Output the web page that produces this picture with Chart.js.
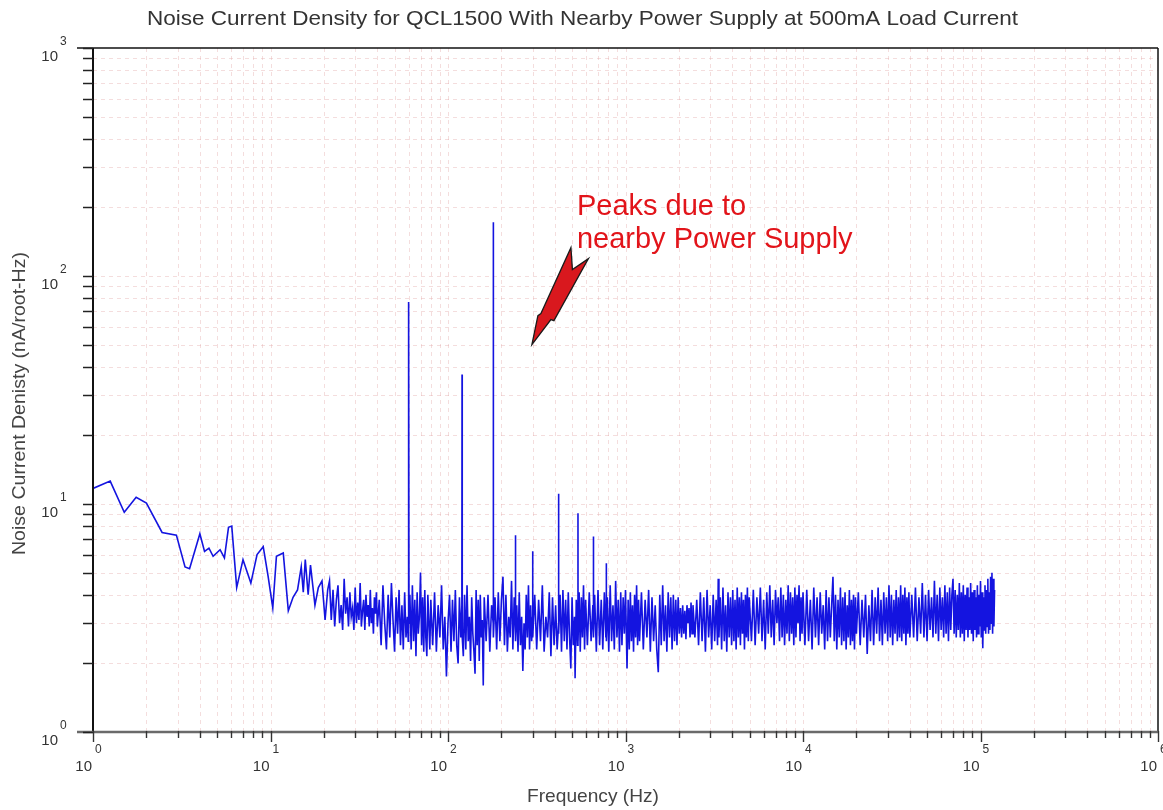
<!DOCTYPE html>
<html>
<head>
<meta charset="utf-8">
<script src="https://cdn.jsdelivr.net/npm/chart.js@4.4.1/dist/chart.umd.min.js"></script>
<style>
html,body{margin:0;padding:0;background:#fff;}
#wrap{width:1163px;height:810px;position:relative;}
</style>
</head>
<body>
<div id="wrap"><canvas id="c" width="1163" height="810"></canvas></div>
<script>
// ---------- text ----------
const chartTitle = "Noise Current Density for QCL1500 With Nearby Power Supply at 500mA Load Current";
const xAxisTitle = "Frequency (Hz)";
const yAxisTitle = "Noise Current Denisty (nA/root-Hz)";
const annotationLines = ["Peaks due to", "nearby Power Supply"];

// ---------- axes ----------
const xTickExponents = [0, 1, 2, 3, 4, 5, 6];   // 10^0 .. 10^6 Hz
const yTickExponents = [0, 1, 2, 3];            // 10^0 .. 10^3 nA/rtHz
const annotationTip = [297, 50];                // [Hz, nA/rtHz] where the arrow points

// ---------- data: [frequency Hz, noise nA/rtHz] ----------
const lowFreqSegment = [
  [1,11.7],[1.25,12.6],[1.5,9.2],[1.75,10.7],[2,10.1],[2.45,7.5],[2.95,7.3],[3.3,5.3],[3.5,5.2],[4,7.4],
  [4.25,6.2],[4.5,6.4],[4.75,5.9],[5.2,6.3],[5.5,5.8],[5.8,7.9],[6.05,8.0],[6.45,4.3],[7,5.7],[7.75,4.5],
  [8.4,6.0],[9.1,6.5],[9.7,4.8],[10.3,3.5],[10.8,5.9],[11.8,6.1],[12.6,3.4],[13.4,3.9],[14.2,4.2],[14.9,5.3],
  [15.3,4.1],[15.7,5.7],[16.3,4.0],[16.8,5.4],[17.8,3.6],[18.6,4.3],[19.5,4.6],[20.3,3.1],[21,4.2]
];
const segment20to80Hz = [
  [21.5,4.6],[22,3.1],[22.5,4.2],[23,2.9],[23.5,3.8],[24,4.4],[24.5,3.0],[25,3.6],[25.5,2.8],[26,4.7],
  [26.5,3.3],[27,3.9],[27.5,2.9],[28,4.1],[28.5,3.2],[29,3.5],[29.5,2.8],[30,4.3],[30.5,3.0],[31,3.7],
  [31.5,3.1],[32,4.5],[32.5,2.9],[33,3.4],[33.5,3.8],[34,2.8],[34.5,4.0],[35,3.2],[35.5,3.6],[36,2.9],
  [36.5,4.2],[37,3.0],[37.5,3.5],[38,2.7],[38.5,3.9],[39,3.3],[39.5,4.1],[40,2.9],
  [41,3.8],[42,2.4],[43,4.4],[44,3.0],[45,2.3],[46,4.0],[47,2.6],[48,4.5],[49,3.1],[50,2.25],
  [51,3.9],[52,2.7],[53,4.2],[54,2.4],[55,3.6],[56,2.3],[57,4.1],[58,2.6],[59,3.2],[59.7,2.5],
  [60,77],[60.3,3.0],[61,4.0],[62,2.3],[63,4.4],[64,2.5],[65,3.8],[66,2.15],[67,4.1],[68,2.7],
  [69,3.2],[70,5.0],[71,2.4],[72,3.9],[73,2.25],[74,4.2],[75,2.6],[76,2.15],[77,4.0],[78,3.0],
  [79,2.3],[80,3.8]
];
const segment80to300Hz = [
  [82,2.4],[84,4.1],[86,2.25],[88,3.6],[90,2.6],[92,4.4],[94,2.3],[96,3.2],[98,1.75],[100,3.0],
  [102,4.0],[104,2.25],[106,3.8],[108,2.5],[110,4.2],[112,2.4],[114,2.0],[116,3.9],[118,2.6],[119.7,3.6],
  [120,37],[120.3,2.6],[122,2.15],[124,4.0],[126,2.3],[128,4.4],[130,2.5],[132,3.2],[134,2.05],[136,3.9],
  [138,2.7],[140,2.25],[142,1.8],[144,4.2],[146,2.4],[148,3.8],[150,2.05],[152,4.0],[154,2.6],[156,3.1],
  [158,1.6],[160,3.9],
  [164,2.5],[168,4.0],[172,2.25],[176,3.6],[179.7,3.0],[180,172],[180.3,2.6],[184,3.9],[188,2.3],[192,4.1],
  [196,2.5],[200,3.8],[204,4.8],[208,2.4],[212,4.0],[216,2.25],[220,3.2],[224,2.6],[228,4.6],[232,2.3],
  [236,3.9],[239.7,2.7],[240,7.3],[240.3,2.5],[244,3.6],[248,2.25],[252,4.1],[256,2.4],[260,3.2],[264,1.85],
  [268,3.0],[272,2.3],[276,4.0],[280,2.6],[284,4.4],[288,2.3],[292,3.6],[296,2.5],[299.7,3.2],[300,6.2],
  [300.3,2.6]
];
const segment300to1200Hz = [
  [308,4.0],[316,2.3],[324,3.8],[332,2.5],[340,4.4],[348,2.25],[356,3.2],[364,2.6],[372,4.1],[380,2.15],
  [388,3.9],[396,2.4],[404,3.6],[412,2.3],[419.7,3.0],[420,11.1],[420.3,2.7],[428,4.0],[436,2.25],[444,4.2],
  [452,2.5],[460,3.8],[468,2.3],[476,4.1],[484,2.6],[492,1.9],[500,3.9],[508,2.4],[516,3.2],[520,1.72],
  [528,3.8],[536,2.4],[539.7,3.1],[540,9.1],[540.3,2.5],[548,4.1],[556,2.25],[564,3.9],[572,2.6],[580,4.4],
  [588,2.3],[596,3.8],
  [610,2.4],[625,4.1],[640,2.5],[655,3.6],[659.7,2.7],[660,7.2],[660.3,2.6],[670,4.0],[685,2.25],[700,4.2],
  [715,2.4],[730,3.8],[745,2.3],[760,4.1],[775,2.6],[779.7,3.1],[780,5.5],[780.3,2.5],[790,3.9],[805,2.25],
  [820,4.4],[835,2.5],[850,3.6],[865,2.3],[880,4.6],[895,2.6],[910,3.8],[925,2.25],[940,4.1],[955,2.4],
  [970,3.9],[985,2.7],[1000,4.2],[1020,1.9],[1035,3.8],[1050,2.3],[1065,4.1],[1080,2.5],[1095,3.6],[1110,2.25],
  [1125,4.0],[1140,2.6],[1155,4.4],[1170,2.4],[1185,3.8],[1200,2.5]
];
const segment1200to10000Hz = [
  [1230,4.1],[1260,2.3],[1290,3.8],[1320,2.6],[1350,4.2],[1380,2.25],[1410,3.9],[1440,2.5],[1470,3.6],[1500,2.3],
  [1530,1.83],[1560,4.0],[1590,2.4],[1620,4.4],[1650,2.5],[1680,3.6],[1710,2.25],[1740,4.1],[1770,2.6],[1800,3.9],
  [1830,2.3],[1860,4.0],[1890,2.5],[1920,3.8],[1950,2.4],[1980,3.9],[2010,2.7],[2040,3.5],[2070,2.6],[2100,3.6],
  [2130,2.7],[2160,3.4],[2190,2.55],[2220,3.6],[2250,3.0],[2280,3.5],[2310,2.6],[2340,3.7],[2370,2.7],[2400,3.6],
  [2460,2.6],[2520,3.8],[2580,2.4],[2640,4.1],[2700,2.5],[2760,3.9],[2820,2.25],[2880,4.2],[2940,2.6],[3000,3.6],
  [3060,2.3],[3120,4.0],[3180,2.5],[3240,3.8],[3300,2.4],[3330,4.7],[3360,2.6],[3420,3.9],[3480,2.3],[3540,4.3],
  [3600,2.5],[3660,3.6],[3720,2.25],[3780,4.1],[3840,2.6],[3900,3.9],[3960,2.4],[4020,4.2],[4080,2.5],[4140,3.8],
  [4200,2.3],[4260,4.3],[4320,2.6],[4380,3.9],[4440,2.4],[4500,4.1],[4560,2.7],[4620,3.8],[4680,2.3],[4740,4.0],
  [4800,2.6],[4860,4.3],[4920,2.5],[4980,3.9],
  [5125,2.5],[5250,4.2],[5375,2.4],[5500,3.9],[5625,2.7],[5750,4.3],[5875,2.5],[6000,3.8],[6125,2.3],[6250,4.1],
  [6375,2.7],[6500,4.4],[6625,2.6],[6750,3.8],[6875,2.4],[7000,4.2],[7125,3.0],[7250,3.9],[7375,2.5],[7500,4.3],
  [7625,2.6],[7750,4.0],[7875,2.4],[8000,3.8],[8125,2.7],[8250,4.4],[8375,2.5],[8500,4.1],[8625,2.7],[8750,3.9],
  [8875,2.4],[9000,4.3],[9125,2.6],[9250,4.0],[9375,3.0],[9500,4.4],[9625,2.5],[9750,3.9],[9875,2.7],[10000,4.1]
];
const segment10to120kHz = [
  [10250,2.4],[10500,4.2],[10750,2.5],[11000,3.8],[11250,2.3],[11500,4.3],[11750,2.6],[12000,3.9],[12250,2.4],[12500,4.1],
  [12750,2.7],[13000,3.6],[13250,2.3],[13500,4.2],[13750,2.5],[14000,3.9],[14250,2.6],[14500,3.6],[14750,4.8],[15000,2.5],
  [15250,4.0],[15500,2.3],[15750,3.8],[16000,2.6],[16250,4.3],[16500,2.4],[16750,3.9],[17000,2.5],[17250,4.1],[17500,2.3],
  [17750,3.6],[18000,2.6],[18250,4.2],[18500,2.4],[18750,3.8],[19000,2.5],[19250,4.0],[19500,2.3],[19750,3.9],[20000,2.7],
  [20500,4.1],[21000,2.4],[21500,3.8],[22000,2.6],[22500,4.0],[23000,2.2],[23500,3.6],[24000,2.5],[24500,4.2],[25000,2.4],
  [25500,3.9],[26000,2.7],[26500,4.3],[27000,2.5],[27500,3.8],[28000,2.4],[28500,4.1],[29000,2.7],[29500,3.9],[30000,2.5],
  [30500,4.4],[31000,2.6],[31500,4.0],[32000,2.4],[32500,3.8],[33000,2.7],[33500,4.2],[34000,2.5],[34500,3.9],[35000,2.6],
  [35500,4.4],[36000,2.5],[36500,4.0],[37000,2.7],[37500,4.3],[38000,2.4],[38500,3.9],[39000,2.7],[39500,4.1],[40000,2.6],
  [41000,4.0],[42000,2.6],[43000,4.3],[44000,2.5],[45000,3.9],[46000,2.7],[47000,4.5],[48000,2.6],[49000,4.0],[50000,2.5],
  [51000,4.2],[52000,2.8],[53000,3.9],[54000,2.6],[55000,4.6],[56000,2.7],[57000,4.0],[58000,2.5],[59000,4.3],[60000,2.8],
  [61000,3.9],[62000,2.6],[63000,4.4],[64000,2.7],[65000,4.1],[66000,2.5],[67000,4.3],[68000,2.8],[69000,4.0],[70000,4.7],
  [71000,2.7],[72000,4.2],[73000,2.6],[74000,4.0],[75000,2.8],[76000,4.5],[77000,2.6],[78000,4.1],[79000,2.7],[80000,4.4],
  [81000,2.5],[82000,4.0],[83000,2.8],[84000,4.3],[85000,2.6],[86000,3.9],[87000,2.8],[88000,4.5],[89000,2.7],[90000,4.1],
  [91000,2.5],[92000,4.2],[93000,2.8],[94000,3.9],[95000,2.6],[96000,4.4],[97000,2.7],[98000,4.0],[99000,2.9],[100000,4.6],
  [101000,2.6],[102000,4.1],[103000,2.33],[104000,3.9],[105000,2.8],[106000,4.4],[107000,2.7],[108000,4.2],[109000,2.9],[110000,4.7],
  [111000,2.7],[112000,4.1],[113000,2.8],[114000,4.8],[115000,3.0],[116000,5.0],[117000,2.7],[118000,4.7],[119000,2.9],[120000,4.2]
];

const spectrum = [].concat(lowFreqSegment, segment20to80Hz, segment80to300Hz, segment300to1200Hz,
  segment1200to10000Hz, segment10to120kHz).map(p => ({ x: p[0], y: p[1] }));

// ---------- drawing helpers ----------
const FONT = '"Liberation Sans", Arial, sans-serif';
function fitText(ctx, text, cx, cy, width, size, color, align) {
  ctx.save();
  ctx.font = size + 'px ' + FONT;
  ctx.fillStyle = color;
  ctx.textBaseline = 'middle';
  const w = ctx.measureText(text).width;
  const s = width / w;
  ctx.translate(cx, cy);
  ctx.scale(s, 1);
  ctx.textAlign = align || 'center';
  ctx.fillText(text, 0, 0);
  ctx.restore();
}
function seg(ctx, x1, y1, x2, y2) { ctx.beginPath(); ctx.moveTo(x1, y1); ctx.lineTo(x2, y2); ctx.stroke(); }

const gridPlugin = {
  id: 'logGrid',
  beforeDatasetsDraw(chart) {
    const { ctx, chartArea: a, scales: { x, y } } = chart;
    ctx.save();
    ctx.strokeStyle = 'rgba(225,160,160,0.36)';
    ctx.lineWidth = 1;
    ctx.setLineDash([4, 4]);
    xTickExponents.slice(0, -1).forEach(e => {
      for (let k = 1; k <= 9; k++) {
        const px = Math.round(x.getPixelForValue(k * Math.pow(10, e))) + 0.5;
        if (px <= a.left + 2 || px >= a.right - 2) continue;
        seg(ctx, px, a.top, px, a.bottom);
      }
    });
    yTickExponents.slice(0, -1).forEach(e => {
      for (let k = 1; k <= 9; k++) {
        const py = Math.round(y.getPixelForValue(k * Math.pow(10, e))) + 0.5;
        if (py <= a.top + 2 || py >= a.bottom - 2) continue;
        seg(ctx, a.left, py, a.right, py);
      }
    });
    ctx.restore();
  },
  afterDraw(chart) {
    const { ctx, chartArea: a, scales: { x, y } } = chart;
    ctx.save();
    ctx.setLineDash([]);
    // frame
    ctx.strokeStyle = '#111'; ctx.lineWidth = 1.5;
    seg(ctx, 77, a.top, a.right, a.top);
    seg(ctx, a.right, a.top, a.right, a.bottom);
    ctx.lineWidth = 2;
    seg(ctx, a.left, a.top, a.left, a.bottom);
    ctx.strokeStyle = '#6a6a6a'; ctx.lineWidth = 2.5;
    seg(ctx, 77, a.bottom, a.right, a.bottom);

    // y ticks
    ctx.strokeStyle = '#222'; ctx.lineWidth = 1.5;
    yTickExponents.forEach(e => {
      const kmax = e === yTickExponents[yTickExponents.length - 1] ? 1 : 9;
      for (let k = 1; k <= kmax; k++) {
        const py = Math.round(y.getPixelForValue(k * Math.pow(10, e))) + 0.5;
        seg(ctx, a.left - 10, py, a.left, py);
      }
    });
    // x ticks
    ctx.strokeStyle = '#333'; ctx.lineWidth = 1.4;
    xTickExponents.forEach(e => {
      const kmax = e === xTickExponents[xTickExponents.length - 1] ? 1 : 9;
      for (let k = 1; k <= kmax; k++) {
        const px = Math.round(x.getPixelForValue(k * Math.pow(10, e))) + 0.5;
        seg(ctx, px, a.bottom - 1, px, a.bottom + (k === 1 ? 10 : 6));
      }
    });

    // tick labels
    ctx.fillStyle = '#333';
    ctx.textBaseline = 'middle';
    yTickExponents.forEach(e => {
      const py = y.getPixelForValue(Math.pow(10, e));
      ctx.font = '15px ' + FONT; ctx.textAlign = 'right';
      ctx.fillText('10', 58, py + 9);
      ctx.font = '12px ' + FONT; ctx.textAlign = 'left';
      ctx.fillText(String(e), 60, py - 6);
    });
    xTickExponents.forEach(e => {
      const px = x.getPixelForValue(Math.pow(10, e));
      ctx.font = '15px ' + FONT; ctx.textAlign = 'right';
      ctx.fillText('10', px - 1, a.bottom + 35);
      ctx.font = '12px ' + FONT; ctx.textAlign = 'left';
      ctx.fillText(String(e), px + 2, a.bottom + 18);
    });

    // titles
    fitText(ctx, chartTitle, 582.5, 19, 871, 21, '#333');
    fitText(ctx, xAxisTitle, 593, 797, 132, 19, '#444');
    ctx.save();
    ctx.translate(20, 403.5);
    ctx.rotate(-Math.PI / 2);
    fitText(ctx, yAxisTitle, 0, 0, 303, 19, '#444');
    ctx.restore();

    // annotation
    const tx = x.getPixelForValue(annotationTip[0]);
    const ty = y.getPixelForValue(annotationTip[1]);
    ctx.font = '29px ' + FONT;
    ctx.fillStyle = '#e2141a';
    ctx.textAlign = 'left';
    ctx.textBaseline = 'alphabetic';
    ctx.fillText(annotationLines[0], tx + 45, ty - 130);
    ctx.fillText(annotationLines[1], tx + 45, ty - 97);
    const shape = [[39, -97], [40.5, -75], [56.5, -86], [22, -24], [19, -25], [0, 0], [6, -29], [9, -31]];
    ctx.beginPath();
    shape.forEach((p, i) => i ? ctx.lineTo(tx + p[0], ty + p[1]) : ctx.moveTo(tx + p[0], ty + p[1]));
    ctx.closePath();
    ctx.fillStyle = '#d9181e';
    ctx.fill();
    ctx.strokeStyle = '#1a1a1a'; ctx.lineWidth = 1.3; ctx.lineJoin = 'miter';
    ctx.stroke();
    ctx.restore();
  }
};

new Chart(document.getElementById('c').getContext('2d'), {
  type: 'line',
  data: {
    datasets: [{
      data: spectrum,
      borderColor: '#1414e0',
      borderWidth: 1.6,
      pointRadius: 0,
      tension: 0,
      fill: false
    }]
  },
  options: {
    responsive: false,
    animation: false,
    layout: { padding: { left: 93, right: 5, top: 48, bottom: 78 } },
    plugins: { legend: { display: false }, title: { display: false }, tooltip: { enabled: false } },
    scales: {
      x: { type: 'logarithmic', min: 1, max: 1e6, display: false },
      y: { type: 'logarithmic', min: 1, max: 1000, display: false }
    }
  },
  plugins: [gridPlugin]
});
</script>
</body>
</html>
